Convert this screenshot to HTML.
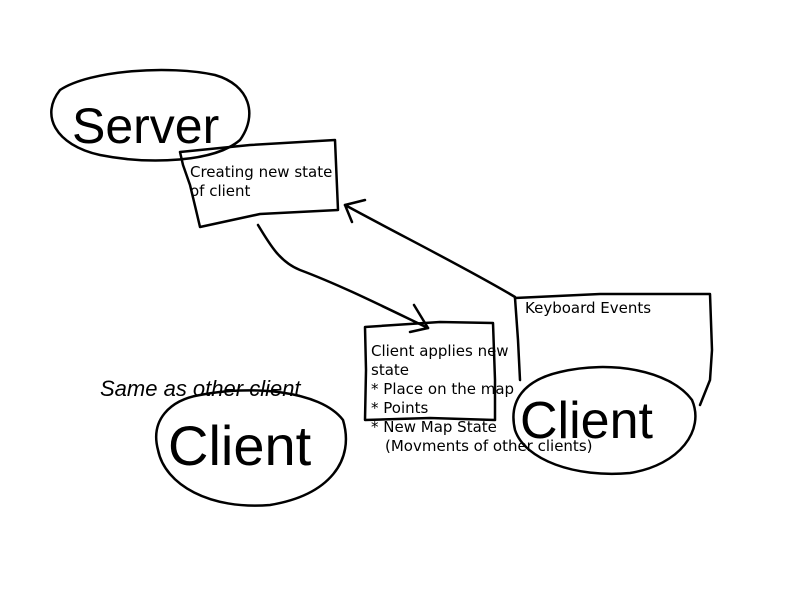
<!DOCTYPE html>
<html><head><style>
html,body{margin:0;padding:0;background:#fff;}
svg{display:block;}
text{font-family:"DejaVu Sans","Liberation Sans",sans-serif;fill:#000;}
.h{font-family:"Liberation Sans",sans-serif;font-weight:normal;}
</style></head><body>
<svg width="800" height="600" viewBox="0 0 800 600" xmlns="http://www.w3.org/2000/svg">
<rect width="800" height="600" fill="#fff"/>
<g fill="none" stroke="#000" stroke-width="2.5" stroke-linecap="round" stroke-linejoin="round">
<!-- server ellipse -->
<path d="M60,90 C90,70 170,65 215,75 C250,85 258,115 240,140 C215,162 150,165 100,155 C55,145 40,115 60,90 Z"/>
<!-- creating box -->
<path d="M180,152 L250,145 L335,140 L338,210 L260,214 L200,227 L196,210 L190,185 L183,165 Z"/>
<!-- arrow down -->
<path d="M258,225 C270,245 280,262 300,270 C340,285 380,305 428,328"/>
<path d="M414,305 L428,328 L410,332"/>
<!-- arrow up -->
<path d="M515,297 C470,270 400,235 345,205"/>
<path d="M352,222 L345,205 L365,200"/>
<!-- client applies box -->
<path d="M365,327 L440,322 L493,323 L495,380 L495,420 L430,418 L365,420 L366,370 Z"/>
<!-- keyboard box -->
<path d="M515,298 L600,294 L710,294 L712,350 L710,380 L700,405"/>
<path d="M515,298 L518,340 L520,380"/>
<!-- right client ellipse -->
<path d="M560,372 C610,360 670,370 692,400 C705,430 680,465 630,473 C575,478 525,460 515,430 C508,400 525,380 560,372 Z"/>
<!-- left client ellipse -->
<path d="M200,395 C250,385 320,390 343,420 C355,460 330,495 270,505 C210,510 165,485 158,450 C150,420 170,400 200,395 Z"/>
</g>
<text class="h" x="72" y="143" font-size="50" transform="scale(1,1)">Server</text>
<text class="h" x="168" y="465" font-size="56">Client</text>
<text class="h" x="520" y="438" font-size="52">Client</text>
<text class="h" x="100" y="396" font-size="22" font-style="italic">Same as other client</text>
<text x="190" y="177" font-size="15">Creating new state</text>
<text x="190" y="196" font-size="15">of client</text>
<text x="525" y="313" font-size="15">Keyboard Events</text>
<text x="371" y="356" font-size="15">Client applies new</text>
<text x="371" y="375" font-size="15">state</text>
<text x="371" y="394" font-size="15">* Place on the map</text>
<text x="371" y="413" font-size="15">* Points</text>
<text x="371" y="432" font-size="15">* New Map State</text>
<text x="385" y="451" font-size="15">(Movments of other clients)</text>
</svg>
</body></html>
